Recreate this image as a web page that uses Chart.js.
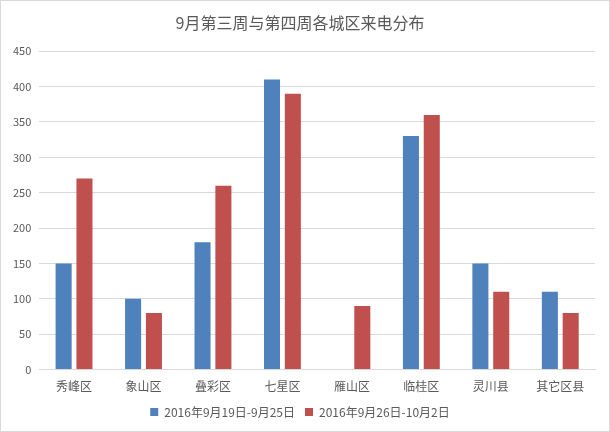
<!DOCTYPE html>
<html>
<head>
<meta charset="utf-8">
<script src="https://cdn.jsdelivr.net/npm/chart.js@4.4.0/dist/chart.umd.min.js"></script>
<style>
  body { margin: 0; background: #fff; }
  #wrap { width: 608px; height: 430px; border: 1px solid #d9d9d9; position: relative; }
</style>
</head>
<body>
<div id="wrap"><canvas id="callChart"></canvas></div>
<script>
// categories and weekly call counts
const districts = ['秀峰区', '象山区', '叠彩区', '七星区', '雁山区', '临桂区', '灵川县', '其它区县'];
const week3Calls = [150, 100, 180, 410, 0, 330, 150, 110];
const week4Calls = [270, 80, 260, 390, 90, 360, 110, 80];
const seriesNames = ['2016年9月19日-9月25日', '2016年9月26日-10月2日'];
const yTicks = [0, 50, 100, 150, 200, 250, 300, 350, 400, 450];

const fontFamily = "'Noto Sans CJK SC', 'Noto Sans', sans-serif";
const textColor = '#595959';

document.addEventListener('DOMContentLoaded', function () {
    var ctx = document.getElementById('callChart').getContext('2d');
    new Chart(ctx, {
        type: 'bar',
        data: {
            labels: districts,
            datasets: [{
                label: seriesNames[0],
                data: week3Calls,
                backgroundColor: '#4F81BD'
            }, {
                label: seriesNames[1],
                data: week4Calls,
                backgroundColor: '#C0504D'
            }]
        },
        options: {
            responsive: true,
            maintainAspectRatio: false,
            animation: false,
            categoryPercentage: 0.6,
            barPercentage: 0.77,
            layout: { padding: { left: 4, right: 14, top: 4, bottom: 3 } },
            plugins: {
                title: {
                    display: true,
                    text: '9月第三周与第四周各城区来电分布',
                    color: textColor,
                    font: { family: fontFamily, size: 16, weight: 'normal' },
                    padding: { top: 8, bottom: 19 }
                },
                legend: {
                    position: 'bottom',
                    labels: {
                        color: textColor,
                        font: { family: fontFamily, size: 12 },
                        boxWidth: 8,
                        boxHeight: 8,
                        padding: 10
                    }
                },
                tooltip: { enabled: false }
            },
            scales: {
                x: {
                    grid: { display: false },
                    border: { color: '#d9d9d9' },
                    ticks: { color: textColor, font: { family: fontFamily, size: 12 }, padding: 2 }
                },
                y: {
                    min: 0,
                    max: 450,
                    afterBuildTicks: function (axis) {
                        axis.ticks = yTicks.map(function (v) { return { value: v }; });
                    },
                    grid: { color: '#d9d9d9', drawTicks: false },
                    border: { display: false },
                    ticks: { color: textColor, font: { family: fontFamily, size: 11 }, padding: 8 }
                }
            }
        }
    });
});
</script>
</body>
</html>
